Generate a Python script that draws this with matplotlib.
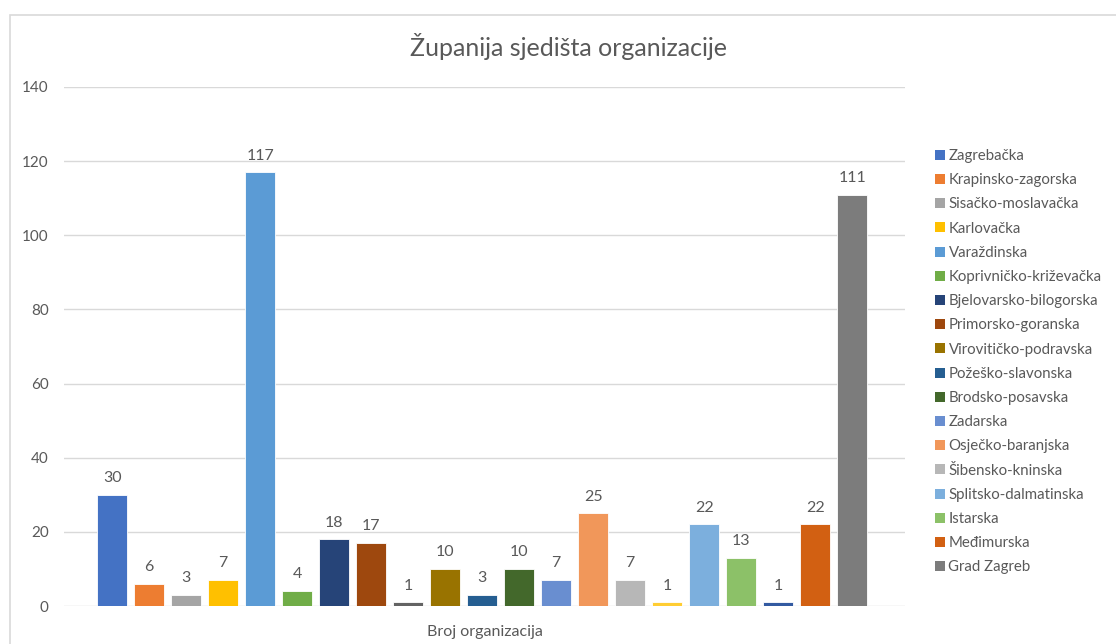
import matplotlib
matplotlib.use('Agg')
import matplotlib.pyplot as plt
from matplotlib.patches import Patch, Rectangle

plt.rcParams['font.family'] = ['Lato', 'DejaVu Sans']

zupanije = ['Zagrebačka', 'Krapinsko-zagorska', 'Sisačko-moslavačka', 'Karlovačka',
            'Varaždinska', 'Koprivničko-križevačka', 'Bjelovarsko-bilogorska',
            'Primorsko-goranska', 'Ličko-senjska', 'Virovitičko-podravska',
            'Požeško-slavonska', 'Brodsko-posavska', 'Zadarska', 'Osječko-baranjska',
            'Šibensko-kninska', 'Vukovarsko-srijemska', 'Splitsko-dalmatinska',
            'Istarska', 'Dubrovačko-neretvanska', 'Međimurska', 'Grad Zagreb']
broj = [30, 6, 3, 7, 117, 4, 18, 17, 1, 10, 3, 10, 7, 25, 7, 1, 22, 13, 1, 22, 111]
# entries that the original legend leaves out
bez_legende = ['Ličko-senjska', 'Vukovarsko-srijemska', 'Dubrovačko-neretvanska']

colors = ['#4472C4', '#ED7D31', '#A5A5A5', '#FFC000', '#5B9BD5', '#70AD47',
          '#264478', '#9E480E', '#636363', '#997300', '#255E91', '#43682B',
          '#698ED0', '#F1975A', '#B7B7B7', '#FFCD33', '#7CAFDD', '#8CC168',
          '#335AA1', '#D26012', '#7C7C7C']

txt = '#595959'
fig = plt.figure(figsize=(11.16, 6.44), dpi=100)
ax = fig.add_axes([64/1116, 1-606/644, (905-64)/1116, (606-87)/644])

# chart frame (cropped on right and bottom)
fig.patches.append(Rectangle((10/1116, -0.1), 1.2, 1 - 15/644 + 0.1, transform=fig.transFigure,
                             fill=False, edgecolor='#D9D9D9', linewidth=1.2))

x = list(range(len(broj)))
bars = ax.bar(x, broj, width=0.8, color=colors, edgecolor='white', linewidth=0.6, zorder=3)
for xi, v in zip(x, broj):
    ax.annotate(str(v), (xi, v), xytext=(0, 7), textcoords='offset points',
                ha='center', va='bottom', fontsize=11.5, color=txt)

ax.set_ylim(0, 140)
ax.set_yticks(range(0, 141, 20))
ax.set_xlim(-1.3, 21.43)
ax.set_xticks([])
ax.grid(axis='y', color='#D9D9D9', linewidth=1, zorder=0)
for s in ax.spines.values():
    s.set_visible(False)
ax.tick_params(axis='y', length=0, labelsize=11, labelcolor=txt, pad=11)
ax.set_xlabel('Broj organizacija', fontsize=11.5, color=txt, labelpad=14)

fig.text(569/1116, 1-47/644, 'Županija sjedišta organizacije', ha='center', va='center',
         fontsize=18, color=txt)

handles = [Patch(facecolor=c, label=n) for n, c in zip(zupanije, colors) if n not in bez_legende]
fig.legend(handles=handles, loc='upper left', bbox_to_anchor=(929/1116, 1-143/644),
           frameon=False, fontsize=10.8, labelcolor=txt, handlelength=0.65, handleheight=0.65,
           handletextpad=0.25, labelspacing=0.68, borderaxespad=0)

fig.savefig('out.png', dpi=100)
